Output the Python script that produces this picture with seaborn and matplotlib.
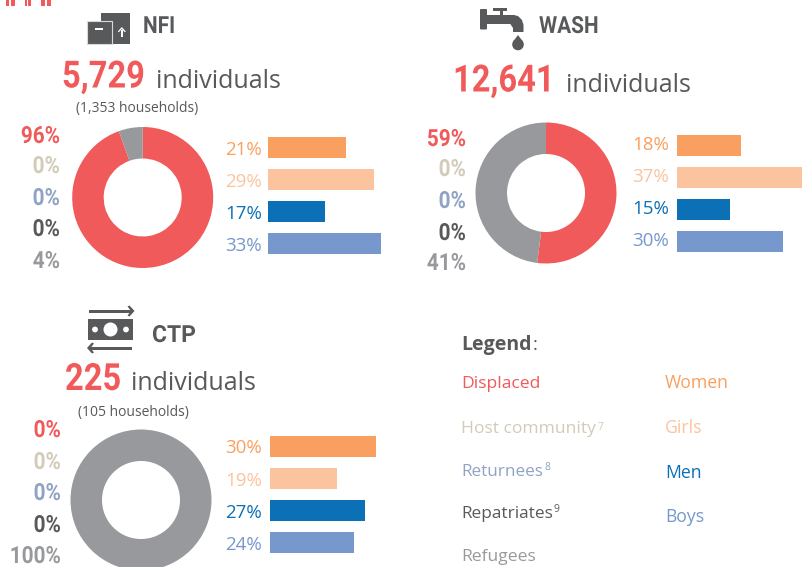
import matplotlib
matplotlib.use("Agg")
import matplotlib.pyplot as plt
from matplotlib.patches import Rectangle, Polygon, Circle, FancyBboxPatch
from matplotlib.patheffects import AbstractPathEffect
from matplotlib.transforms import Affine2D
import pandas as pd
import seaborn as sns

W, H = 803, 567
RED, INK, GREY = "#F05A5B", "#58595B", "#97999C"
ORANGE, PEACH, BLUE, SKY = "#F9A061", "#FBC49F", "#0B70B5", "#7698CC"
TAN, STEEL = "#D2CBB8", "#90A3C4"
COND = ["Roboto", "DejaVu Sans"]
BODY = ["Open Sans", "Noto Sans", "DejaVu Sans"]

# ---- data ----
status_names = ["Displaced", "Host community", "Returnees", "Repatriates", "Refugees"]
gender_names = ["Women", "Girls", "Men", "Boys"]
status_colors = [RED, TAN, STEEL, INK, GREY]
gender_colors = [ORANGE, PEACH, BLUE, SKY]

nfi_status_labels = ["96%", "0%", "0%", "0%", "4%"]
wash_status_labels = ["59%", "0%", "0%", "0%", "41%"]
ctp_status_labels = ["0%", "0%", "0%", "0%", "100%"]

# donut shares as drawn in the picture
nfi_donut = [94.5, 0, 0, 0, 5.5]
wash_donut = [52, 0, 0, 0, 48]
ctp_donut = [0, 0, 0, 0, 100]

nfi_gender_labels = ["21%", "29%", "17%", "33%"]
wash_gender_labels = ["18%", "37%", "15%", "30%"]
ctp_gender_labels = ["30%", "19%", "27%", "24%"]

# bar lengths as drawn in the picture
nfi_bars = [22.1, 30.0, 16.1, 32.0]
wash_bars = [18.1, 35.9, 15.0, 30.0]
ctp_bars = [30.0, 19.0, 26.9, 23.8]

sns.set_theme(style="white", rc={"axes.facecolor": "none", "figure.facecolor": "white"})
plt.rcParams["font.family"] = BODY

fig = plt.figure(figsize=(W / 100, H / 100), dpi=100)
page = fig.add_axes([0, 0, 1, 1])
page.set_xlim(0, W)
page.set_ylim(H, 0)
page.axis("off")


class Squeeze(AbstractPathEffect):
    """Narrow a text horizontally about its anchor (condensed look)."""

    def __init__(self, anchor_x, sx):
        super().__init__()
        self.anchor_x, self.sx = anchor_x, sx

    def draw_path(self, renderer, gc, tpath, affine, rgbFace=None):
        squeeze = Affine2D().translate(-self.anchor_x, 0).scale(self.sx, 1).translate(self.anchor_x, 0)
        renderer.draw_path(gc, tpath, affine + squeeze, rgbFace)


def px_axes(x0, y0, w, h):
    return fig.add_axes([x0 / W, 1 - (y0 + h) / H, w / W, h / H])


def label(x, y, s, color=INK, size=13, bold=False, ha="left", family=BODY, sx=None):
    t = page.text(x, y, s, color=color, fontsize=size, ha=ha, va="baseline",
                  family=family, fontweight="bold" if bold else "normal")
    if sx:
        t.set_path_effects([Squeeze(page.transData.transform((x, y))[0], sx)])
    return t


def donut(cx, cy, shares):
    R = 70.5
    ax = px_axes(cx - R, cy - R, 2 * R, 2 * R)
    ax.pie(shares, colors=status_colors, startangle=90, counterclock=False, radius=1,
           wedgeprops=dict(width=1 - 39 / 70.5, linewidth=0))
    ax.set_xlim(-1, 1)
    ax.set_ylim(-1, 1)
    ax.set_aspect("equal")
    ax.axis("off")


def bars(x0, y_first, values):
    # 32 px per row; 21 px thick bars; 3.53 px per percentage point
    ax = px_axes(x0, y_first - 5.5, 40 * 3.53, 128.5)
    df = pd.DataFrame({"group": gender_names, "share": values})
    sns.barplot(data=df, x="share", y="group", hue="group", palette=gender_colors,
                order=gender_names, hue_order=gender_names, legend=False,
                width=0.654, saturation=1, linewidth=0, ax=ax)
    ax.set_xlim(0, 40)
    ax.set_ylim(3.5, -0.5)
    ax.axis("off")


def status_text(x, ys, labels):
    for y, s, c in zip(ys, labels, status_colors):
        label(x, y, s, color=c, size=17, bold=True, ha="right", family=COND, sx=0.88)


def gender_text(x, ys, labels):
    for y, s, c in zip(ys, labels, gender_colors):
        label(x, y, s, color=c, size=13.5, ha="right")


def title(x, y, s, sx=0.88):
    label(x, y, s, size=17, bold=True, family=COND, sx=sx)


def headline(x, y, s):
    label(x, y, s, color=RED, size=27, bold=True, family=COND, sx=0.87)


def arrow_head(tip_x, y, direction):
    d = direction
    page.add_patch(Polygon([(tip_x, y), (tip_x - d * 5, y - 5.5), (tip_x - d * 7, y - 4.5),
                            (tip_x - d * 3.5, y), (tip_x - d * 7, y + 4.5), (tip_x - d * 5, y + 5.5)],
                           color=INK, lw=0))


# ---- top-left cut-off marks ----
for x0, x1 in [(6, 9.5), (11, 15), (25, 27.5), (28.5, 31), (41, 45), (47, 51)]:
    page.add_patch(Rectangle((x0, 0), x1 - x0, 5.5, color=RED, lw=0))

# ---- NFI ----
page.add_patch(Rectangle((101, 13), 29, 31, color=INK, lw=0))
page.add_patch(Rectangle((87, 21), 25.5, 23, fc=INK, ec="#D9D9DA", lw=0.8))
page.add_patch(Rectangle((95, 27.5), 8, 2.6, color="white", lw=0))
page.add_patch(Rectangle((121, 30), 1.6, 7, color="white", lw=0))
page.add_patch(Polygon([(117.8, 31.5), (121.8, 27), (125.8, 31.5), (124.8, 32.3), (121.8, 29), (118.8, 32.3)],
                       color="white", lw=0))
title(143, 33, "NFI")
headline(62, 87.5, "5,729")
label(156, 87.5, "individuals", size=18)
label(76, 112, "(1,353 households)", size=10)
status_text(60, [143, 173, 205, 236, 268], nfi_status_labels)
donut(142.7, 197.5, nfi_donut)
bars(268, 137, nfi_bars)
gender_text(262, [155, 187, 219, 251], nfi_gender_labels)

# ---- WASH ----
page.add_patch(FancyBboxPatch((481, 10), 5, 18.5, boxstyle="round,pad=1", color=INK, lw=0))
page.add_patch(Rectangle((482, 15), 33, 8.5, color=INK, lw=0))
page.add_patch(Rectangle((500, 9), 3.5, 7, color=INK, lw=0))
page.add_patch(Rectangle((493, 8), 14, 3, color=INK, lw=0))
page.add_patch(Polygon([(513, 15), (518, 16), (522, 20), (523.5, 25), (523.5, 32), (513, 32), (513, 28),
                        (510, 23.5), (513, 23.5)], color=INK, lw=0))
page.add_patch(Circle((518, 44.5), 5.8, color=INK, lw=0))
page.add_patch(Polygon([(518, 35), (512.8, 42), (523.2, 42)], color=INK, lw=0))
title(539, 33, "WASH")
headline(453, 91.5, "12,641")
label(566, 91.5, "individuals", size=18)
status_text(466, [146, 176, 208, 240, 270], wash_status_labels)
donut(546, 193, wash_donut)
bars(677, 135, wash_bars)
gender_text(669, [150, 182, 214, 246], wash_gender_labels)

# ---- CTP ----
page.add_patch(Rectangle((89, 309.6), 43, 3, color=INK, lw=0))
arrow_head(134.5, 311, 1)
page.add_patch(Rectangle((88, 319), 45, 21, color=INK, lw=0))
page.add_patch(Circle((110.5, 329.5), 7, color="white", lw=0))
page.add_patch(Circle((95, 329.5), 2.9, color="white", lw=0))
page.add_patch(Circle((126, 329.5), 2.9, color="white", lw=0))
page.add_patch(Rectangle((89, 346.6), 43, 3, color=INK, lw=0))
arrow_head(87, 348, -1)
title(152, 342, "CTP", sx=0.97)
headline(65, 390, "225")
label(131, 390, "individuals", size=18)
label(78, 416, "(105 households)", size=10)
status_text(61, [437, 469, 500, 532, 563], ctp_status_labels)
donut(141, 500, ctp_donut)
bars(270, 436, ctp_bars)
gender_text(262, [453, 486, 518, 550], ctp_gender_labels)

# ---- legend ----
label(461, 350, "Legend", size=14, bold=True)
label(533, 350, ":", size=13)
for y, s, c, size in zip([388, 433, 476, 518, 561], status_names, status_colors, [12.6, 12.6, 12.3, 12.4, 12.6]):
    label(461.5, y, s, color=c, size=size)
for x, y, s, c in [(598, 430, "7", TAN), (544.5, 470, "8", STEEL), (554, 512, "9", INK)]:
    label(x, y, s, color=c, size=7.5)
for y, s, c in zip([388, 433, 478, 522], gender_names, gender_colors):
    label(665, y, s, color=c, size=12.7)

fig.savefig("out.png", dpi=100)
